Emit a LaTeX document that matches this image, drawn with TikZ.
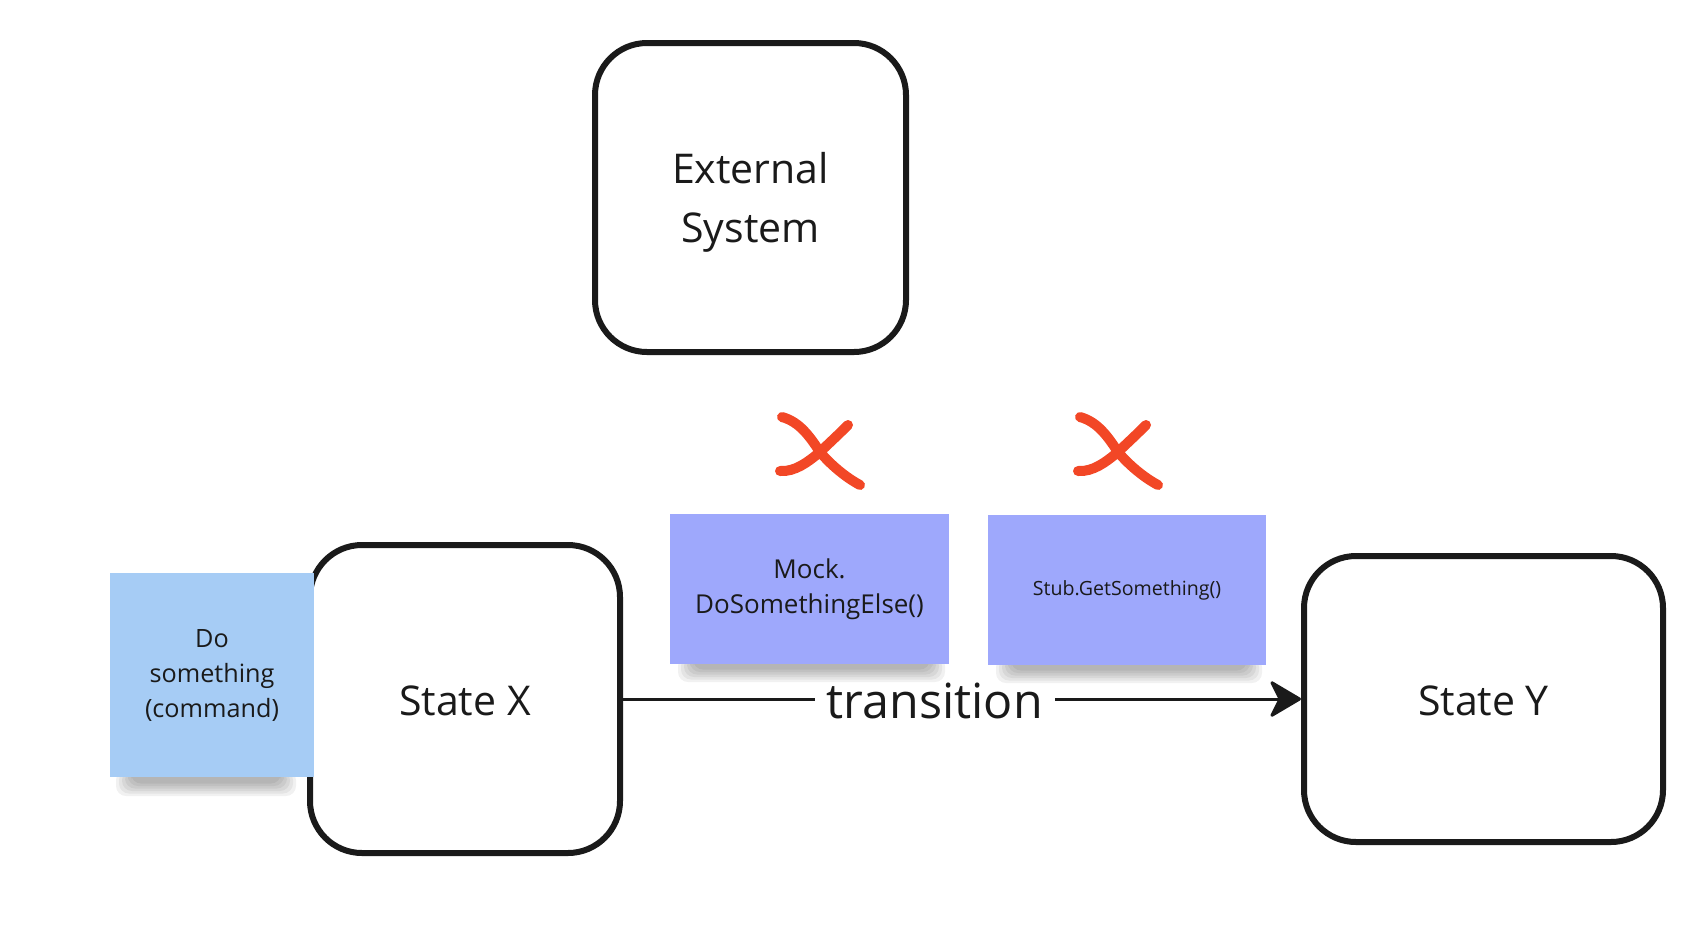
\documentclass[tikz,border=0pt]{standalone}
\usepackage{fontspec}
\setmainfont{Open Sans}
\usetikzlibrary{arrows.meta}
\definecolor{ink}{HTML}{1A1A1A}
\definecolor{xred}{HTML}{F24726}
\definecolor{skyblue}{HTML}{A6CCF5}
\definecolor{stickyviolet}{RGB}{158,168,252}
\newcommand\noteshadow[3]{%
  \foreach \i in {0,...,5}{%
    \fill[black, opacity=0.055, rounded corners=5pt]
      (#1+6+3*\i, #3-8) rectangle (#2-4-3*\i, #3+18-2.5*\i);
  }%
}
\begin{document}
\begin{tikzpicture}[x=0.5pt,y=-0.5pt,
  statebox/.style={draw=ink, line width=3pt, rounded corners=26pt, fill=white},
  boxtext/.style={text=ink, font=\fontsize{20.5}{29.5}\selectfont, align=center, inner sep=0pt},
  sticky/.style={inner sep=0pt, text=ink, align=center},
  cross/.style={draw=xred, line width=5pt, line cap=round},
  conn/.style={draw=ink, line width=1.5pt, -{Stealth[length=17pt,width=20pt,inset=5pt,round]}}]

\useasboundingbox (0,0) rectangle (1682,928);

% boxes
\node[statebox, minimum width=155.5pt, minimum height=154.5pt] (ext) at (750.5,197.5) {};
\node[boxtext] (extt) at ([yshift=-2.6pt]ext.center) {External\\System};
\node[statebox, minimum width=155pt, minimum height=154pt] (sx) at (465,699) {};
\node[boxtext] (sxt) at ([yshift=-1pt]sx.center) {State X};
\node[statebox, minimum width=179.5pt, minimum height=143pt] (sy) at (1483.5,699) {};
\node[boxtext] (syt) at ([yshift=-1pt]sy.center) {State Y};

% transition
\draw[conn] (sx.east) -- node[pos=0.46, fill=white, inner xsep=6pt, inner ysep=1pt,
  font=\fontsize{24.2}{28}\selectfont, text=ink, yshift=-1pt] (tr) {transition} (sy.west);

% shadows
\noteshadow{110}{300}{778}
\noteshadow{672}{949}{664}
\noteshadow{990}{1266}{665}

% sticky notes
\node[sticky, fill=skyblue, minimum width=102pt, minimum height=102pt,
  font=\fontsize{12.6}{17.5}\selectfont] (cmd) at (212,675) {Do\\something\\(command)};
\node[sticky, fill=stickyviolet, minimum width=139.5pt, minimum height=75pt,
  font=\fontsize{13}{17.5}\selectfont] (mock) at (809.5,589) {Mock.\\DoSomethingElse()};
\node[sticky, fill=stickyviolet, minimum width=139pt, minimum height=75pt,
  font=\fontsize{9.8}{12}\selectfont] (stub) at (1127,590) {Stub.GetSomething()};

% crosses
\coordinate (c1) at (820,452);
\coordinate (c2) at (1118,452);
\foreach \c in {c1,c2}{
  \begin{scope}[shift={(\c)}]
    \draw[cross] (-38,-35) .. controls (-20,-30) and (-10,-15) .. (0,0)
                 .. controls (10,12) and (25,25) .. (40,33);
    \draw[cross] (28,-27) .. controls (15,-14) and (5,-5) .. (0,0)
                 .. controls (-12,10) and (-25,20) .. (-40,19);
  \end{scope}
}
\end{tikzpicture}
\end{document}
